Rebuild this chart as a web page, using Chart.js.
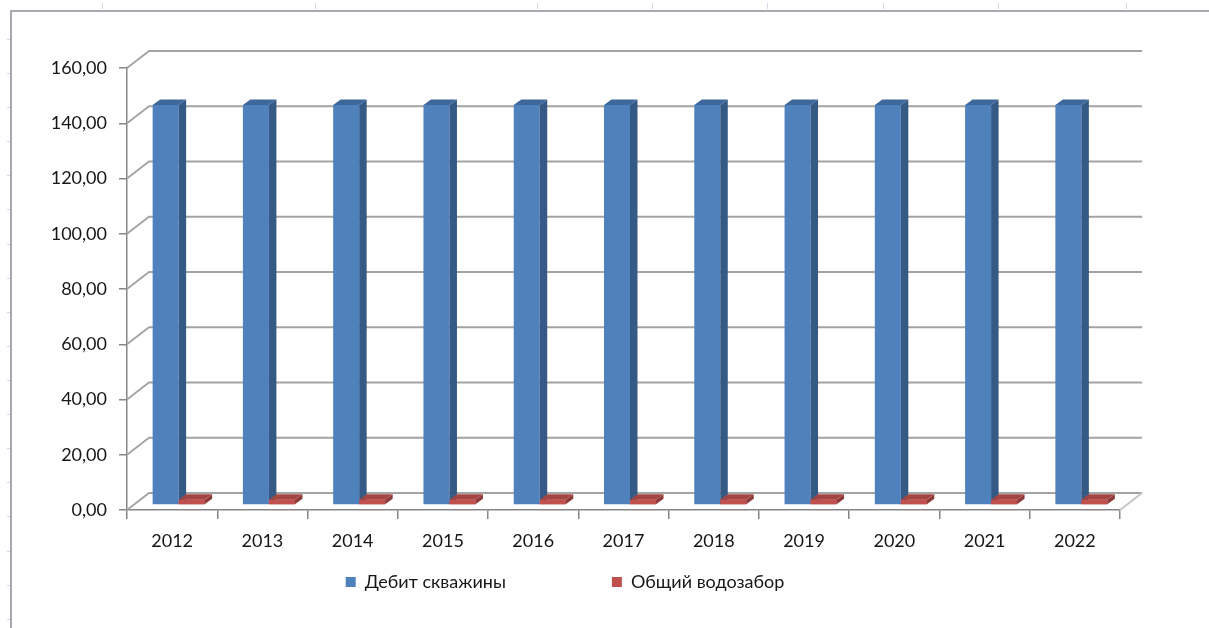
<!DOCTYPE html>
<html>
<head>
<meta charset="utf-8">
<title>Дебит скважины</title>
<script src="https://cdn.jsdelivr.net/npm/chart.js@4.4.1/dist/chart.umd.min.js"></script>
<style>
    html, body { margin: 0; padding: 0; background: #fff; }
    canvas { display: block; }
</style>
</head>
<body>
<canvas id="well-chart" width="1209" height="628"></canvas>
<script>
// data
const years = ["2012", "2013", "2014", "2015", "2016", "2017", "2018", "2019", "2020", "2021", "2022"];
const debitValues = [144.8, 144.8, 144.8, 144.8, 144.8, 144.8, 144.8, 144.8, 144.8, 144.8, 144.8];
const intakeValues = [1.9, 1.9, 1.9, 1.9, 1.9, 1.9, 1.9, 1.9, 1.9, 1.9, 1.9];
const seriesNames = ["Дебит скважины", "Общий водозабор"];
const yMin = 0, yMax = 160, yStep = 20;

// fake 3d look (pixels)
const WALL_DX = 22, WALL_DY = -17;
const BAR_SHIFT_X = 6.5, BAR_SHIFT_Y = -5;
const DEPTH_DX = 7.5, DEPTH_DY = -5.5;
const sideColors = ["#365a86", "#8e3a38"];
const topColors = ["#3e679b", "#a44542"];
const gridColor = "#a3a3a3";
const axisColor = "#868686";
const sheetCols = [102, 315, 537, 652, 767, 883, 998, 1126];

function formatTick(v) {
    return v.toFixed(2).replace(".", ",");
}

function drawFaces(ctx, bar, side, top) {
    const p = bar.getProps(["x", "y", "base", "width"], true);
    const l = p.x - p.width / 2, r = p.x + p.width / 2;
    ctx.fillStyle = side;
    ctx.beginPath();
    ctx.moveTo(r, p.y);
    ctx.lineTo(r + DEPTH_DX, p.y + DEPTH_DY);
    ctx.lineTo(r + DEPTH_DX, p.base + DEPTH_DY);
    ctx.lineTo(r, p.base);
    ctx.closePath();
    ctx.fill();
    ctx.fillStyle = top;
    ctx.beginPath();
    ctx.moveTo(l, p.y);
    ctx.lineTo(l + DEPTH_DX, p.y + DEPTH_DY);
    ctx.lineTo(r + DEPTH_DX, p.y + DEPTH_DY);
    ctx.lineTo(r, p.y);
    ctx.closePath();
    ctx.fill();
}

const excel3d = {
    id: "excel3d",
    beforeDraw(chart) {
        const ctx = chart.ctx;
        ctx.save();
        ctx.fillStyle = "#fff";
        ctx.fillRect(0, 0, chart.width, chart.height);
        // spreadsheet cell marks behind the chart frame
        ctx.strokeStyle = "#d3d6e6";
        ctx.lineWidth = 1;
        sheetCols.forEach(function (x) {
            ctx.beginPath();
            ctx.moveTo(x + 0.5, 3);
            ctx.lineTo(x + 0.5, 9);
            ctx.stroke();
        });
        for (let y = 39; y < chart.height; y += 34.1) {
            ctx.beginPath();
            ctx.moveTo(7, Math.round(y) + 0.5);
            ctx.lineTo(10, Math.round(y) + 0.5);
            ctx.stroke();
        }
        // chart frame
        ctx.strokeStyle = "#a7a8b0";
        ctx.lineWidth = 2;
        ctx.beginPath();
        ctx.moveTo(11, chart.height);
        ctx.lineTo(11, 11);
        ctx.lineTo(chart.width, 11);
        ctx.stroke();
        ctx.restore();
    },
    afterLayout(chart) {
        // keep the wide gap between legend items without eating the plot height
        const lg = chart.legend;
        lg.top = 573 - lg.options.labels.padding;
        lg.bottom = chart.height;
    },
    beforeDatasetsDraw(chart) {
        const ctx = chart.ctx;
        const y = chart.scales.y;
        const area = chart.chartArea;
        ctx.save();
        ctx.strokeStyle = gridColor;
        ctx.lineWidth = 1.8;
        y.ticks.forEach(function (t) {
            const py = y.getPixelForValue(t.value);
            ctx.beginPath();
            ctx.moveTo(area.left, py);
            ctx.lineTo(area.left + WALL_DX, py + WALL_DY);
            ctx.lineTo(area.right + WALL_DX, py + WALL_DY);
            ctx.stroke();
        });
        // floor right edge
        const p0 = y.getPixelForValue(0);
        ctx.strokeStyle = "#c4c4c4";
        ctx.beginPath();
        ctx.moveTo(area.right, p0);
        ctx.lineTo(area.right + WALL_DX, p0 + WALL_DY);
        ctx.stroke();
        ctx.restore();

        ctx.save();
        ctx.translate(BAR_SHIFT_X, BAR_SHIFT_Y);
    },
    afterDatasetsDraw(chart) {
        // side and top faces, left to right, so each red slab sits over the blue side
        const ctx = chart.ctx;
        const blue = chart.getDatasetMeta(0).data;
        const red = chart.getDatasetMeta(1).data;
        blue.forEach(function (bar, j) {
            drawFaces(ctx, bar, sideColors[0], topColors[0]);
            red[j].draw(ctx);
            drawFaces(ctx, red[j], sideColors[1], topColors[1]);
        });
        ctx.restore();
    }
};

Chart.defaults.font.family = "Lato, 'Open Sans', sans-serif";
Chart.defaults.font.size = 18;
Chart.defaults.color = "#161616";

document.addEventListener("DOMContentLoaded", function () {
    const ctx = document.getElementById("well-chart").getContext("2d");
    new Chart(ctx, {
        type: "bar",
        data: {
            labels: years,
            datasets: [{
                label: seriesNames[0],
                data: debitValues,
                backgroundColor: "#4f81bd",
                borderWidth: 0,
            }, {
                label: seriesNames[1],
                data: intakeValues,
                backgroundColor: "#c0504d",
                borderWidth: 0,
            }]
        },
        options: {
            responsive: false,
            animation: false,
            devicePixelRatio: 1,
            datasets: {
                bar: {
                    categoryPercentage: 0.576,
                    barPercentage: 1,
                },
            },
            layout: {
                padding: { top: 68, left: 10, right: 89, bottom: 18 },
            },
            scales: {
                x: {
                    grid: {
                        drawOnChartArea: false,
                        drawTicks: true,
                        tickLength: 9,
                        color: axisColor,
                        lineWidth: 1.5,
                    },
                    border: { color: axisColor, width: 1.5 },
                    ticks: { padding: 11 },
                    afterFit(scale) { scale.height = 70; },
                },
                y: {
                    min: yMin,
                    max: yMax,
                    grid: {
                        drawOnChartArea: false,
                        drawTicks: true,
                        tickLength: 8,
                        color: axisColor,
                        lineWidth: 1.5,
                    },
                    border: { color: axisColor, width: 1.5 },
                    ticks: {
                        stepSize: yStep,
                        padding: 12,
                        callback: formatTick,
                    },
                    afterFit(scale) { scale.width = 117; },
                },
            },
            plugins: {
                legend: {
                    position: "bottom",
                    maxHeight: 30,
                    labels: {
                        boxWidth: 10,
                        boxHeight: 10,
                        padding: 106,
                    },
                },
                tooltip: { enabled: false },
            },
        },
        plugins: [excel3d],
    });
});
</script>
</body>
</html>
